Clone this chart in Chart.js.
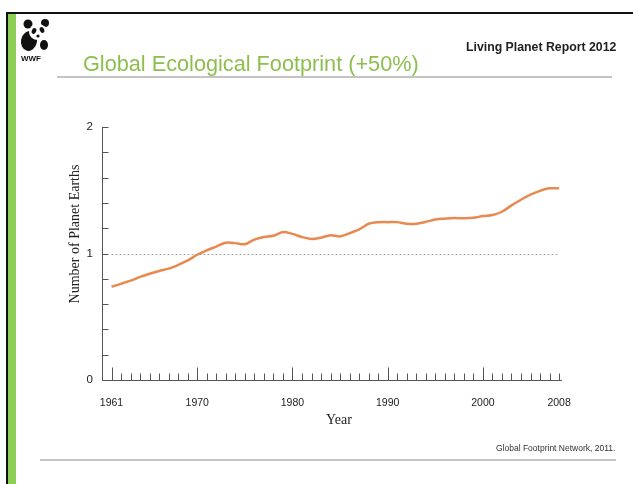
<!DOCTYPE html>
<html>
<head>
<meta charset="utf-8">
<script src="https://cdn.jsdelivr.net/npm/chart.js@4.4.1/dist/chart.umd.min.js"></script>
<style>
  html, body { margin: 0; padding: 0; background: #fff; width: 633px; height: 484px; overflow: hidden; }
  #wrap { position: relative; width: 633px; height: 484px; }
  canvas { position: absolute; left: 0; top: 0; }
  .t { position: absolute; white-space: nowrap; font-family: "Liberation Sans", Arial, sans-serif; }
</style>
</head>
<body>
<div id="wrap">
  <canvas id="c" width="633" height="484"></canvas>
  <div class="t" style="left:83px;top:53px;font-size:21.7px;line-height:22px;color:#8cbf4e;">Global Ecological Footprint (+50%)</div>
  <div class="t" style="left:466px;top:40px;font-size:12.3px;line-height:14px;font-weight:bold;color:#222;">Living Planet Report 2012</div>
  <div class="t" style="left:496px;top:443px;font-size:8.5px;line-height:10px;color:#333;">Global Footprint Network, 2011.</div>
  <div class="t" style="left:21px;top:54px;font-size:8px;line-height:9px;font-weight:bold;color:#111;">WWF</div>
</div>
<script>
// Years covered by the footprint series
const years = [
  1961, 1962, 1963, 1964, 1965, 1966, 1967, 1968, 1969, 1970,
  1971, 1972, 1973, 1974, 1975, 1976, 1977, 1978, 1979, 1980,
  1981, 1982, 1983, 1984, 1985, 1986, 1987, 1988, 1989, 1990,
  1991, 1992, 1993, 1994, 1995, 1996, 1997, 1998, 1999, 2000,
  2001, 2002, 2003, 2004, 2005, 2006, 2007, 2008
];

// Global Ecological Footprint, in number of planet Earths
const footprint = [
  0.737, 0.760, 0.785, 0.815, 0.840, 0.862, 0.880, 0.910, 0.945, 0.990,
  1.025, 1.055, 1.085, 1.082, 1.073, 1.110, 1.130, 1.140, 1.170, 1.155,
  1.130, 1.115, 1.125, 1.145, 1.135, 1.160, 1.190, 1.235, 1.247, 1.248,
  1.248, 1.235, 1.236, 1.250, 1.268, 1.275, 1.280, 1.278, 1.282, 1.296,
  1.305, 1.330, 1.380, 1.425, 1.465, 1.495, 1.515, 1.515
];

// Labelled years on the x axis and the years that get a long tick mark
const xTickLabels = [1961, 1970, 1980, 1990, 2000, 2008];
const majorTickYears = [1961, 1970, 1980, 1990, 2000];

// Biocapacity of one planet
const onePlanet = 1;

// Axis titles
const xTitle = 'Year';
const yTitle = 'Number of Planet Earths';

const sans = '"Liberation Sans", Arial, sans-serif';
const serif = '"Liberation Serif", "Times New Roman", serif';

// Page frame, header rules and the panda emblem
const pageDecor = {
  id: 'pageDecor',
  beforeDraw(chart) {
    const ctx = chart.ctx;
    ctx.save();
    ctx.fillStyle = '#fff';
    ctx.fillRect(0, 0, chart.width, chart.height);
    // frame
    ctx.fillStyle = '#111';
    ctx.fillRect(6, 12, 627, 2);
    ctx.fillRect(6, 12, 2, 472);
    ctx.fillStyle = '#8dcf55';
    ctx.fillRect(8, 14, 8, 470);
    // header and footer rules
    ctx.fillStyle = '#c4c4c4';
    ctx.fillRect(57, 76, 555, 2);
    ctx.fillRect(40, 459, 576, 2);
    // panda
    ctx.fillStyle = '#111';
    ctx.beginPath(); ctx.arc(28, 24, 4.5, 0, Math.PI * 2); ctx.fill();
    ctx.beginPath(); ctx.arc(45, 23, 4, 0, Math.PI * 2); ctx.fill();
    ctx.beginPath(); ctx.ellipse(29, 41, 8, 10, 0.2, 0, Math.PI * 2); ctx.fill();
    ctx.fillStyle = '#fff';
    ctx.beginPath(); ctx.ellipse(38, 32, 9, 8, 0, 0, Math.PI * 2); ctx.fill();
    ctx.fillStyle = '#111';
    ctx.beginPath(); ctx.ellipse(34, 31, 2.2, 3, 0.4, 0, Math.PI * 2); ctx.fill();
    ctx.beginPath(); ctx.ellipse(42, 30, 2.2, 3, -0.4, 0, Math.PI * 2); ctx.fill();
    ctx.beginPath(); ctx.arc(38, 36, 1.6, 0, Math.PI * 2); ctx.fill();
    ctx.beginPath(); ctx.ellipse(44, 45, 4, 5, 0, 0, Math.PI * 2); ctx.fill();
    ctx.restore();
  }
};

// Inward tick marks on both axes, the dotted one-planet line and the axis titles
const axisMarks = {
  id: 'axisMarks',
  beforeDatasetsDraw(chart) {
    const { ctx, scales: { x, y } } = chart;
    ctx.save();
    // reference line at one planet
    ctx.strokeStyle = '#a8a8a8';
    ctx.lineWidth = 1;
    ctx.setLineDash([2, 2]);
    const y1 = Math.round(y.getPixelForValue(onePlanet)) + 0.5;
    ctx.beginPath();
    ctx.moveTo(x.getPixelForValue(years[0]), y1);
    ctx.lineTo(x.getPixelForValue(years[years.length - 1]), y1);
    ctx.stroke();
    ctx.setLineDash([]);

    ctx.strokeStyle = '#555';
    const base = Math.round(y.getPixelForValue(0)) + 0.5;
    // yearly ticks
    years.forEach(yr => {
      const px = Math.round(x.getPixelForValue(yr)) + 0.5;
      const len = majorTickYears.includes(yr) ? 13 : 7;
      ctx.beginPath();
      ctx.moveTo(px, base);
      ctx.lineTo(px, base - len);
      ctx.stroke();
    });
    // y ticks every 0.2
    const left = Math.round(x.left) + 0.5;
    for (let i = 1; i <= 10; i++) {
      const py = Math.round(y.getPixelForValue(i * 0.2)) + 0.5;
      ctx.beginPath();
      ctx.moveTo(left, py);
      ctx.lineTo(left + 6, py);
      ctx.stroke();
    }

    // axis titles
    ctx.fillStyle = '#222';
    ctx.font = '14px ' + serif;
    ctx.textAlign = 'center';
    ctx.textBaseline = 'middle';
    ctx.fillText(xTitle, 339, 420);
    ctx.translate(75, 234);
    ctx.rotate(-Math.PI / 2);
    ctx.fillText(yTitle, 0, 0);
    ctx.restore();
  }
};

new Chart(document.getElementById('c'), {
  type: 'line',
  data: {
    datasets: [{
      data: years.map((yr, i) => ({ x: yr, y: footprint[i] })),
      borderColor: '#e8894f',
      borderWidth: 2.5,
      pointRadius: 0,
      tension: 0.3,
      fill: false
    }]
  },
  options: {
    responsive: false,
    devicePixelRatio: 1,
    animation: false,
    layout: { padding: { left: 0, top: 127, right: 72, bottom: 54 } },
    plugins: { legend: { display: false }, tooltip: { enabled: false }, title: { display: false } },
    scales: {
      x: {
        type: 'linear',
        min: 1960,
        max: 2008.2,
        afterBuildTicks: s => { s.ticks = xTickLabels.map(v => ({ value: v })); },
        afterFit: s => { s.height = 50; },
        grid: { display: false, drawTicks: false },
        border: { display: true, color: '#555', width: 1 },
        ticks: {
          autoSkip: false,
          maxRotation: 0,
          padding: 17,
          color: '#222',
          font: { family: sans, size: 10.5 },
          callback: v => String(v)
        },
        title: { display: false }
      },
      y: {
        type: 'linear',
        min: 0,
        max: 2,
        afterFit: s => { s.width = 102; },
        grid: { display: false, drawTicks: false },
        border: { display: true, color: '#555', width: 1 },
        ticks: {
          stepSize: 0.2,
          padding: 9,
          color: '#222',
          font: { family: sans, size: 11.5 },
          callback: v => (Math.abs(v - Math.round(v)) < 1e-6 ? String(Math.round(v)) : '')
        },
        title: { display: false }
      }
    }
  },
  plugins: [pageDecor, axisMarks]
});
</script>
</body>
</html>
